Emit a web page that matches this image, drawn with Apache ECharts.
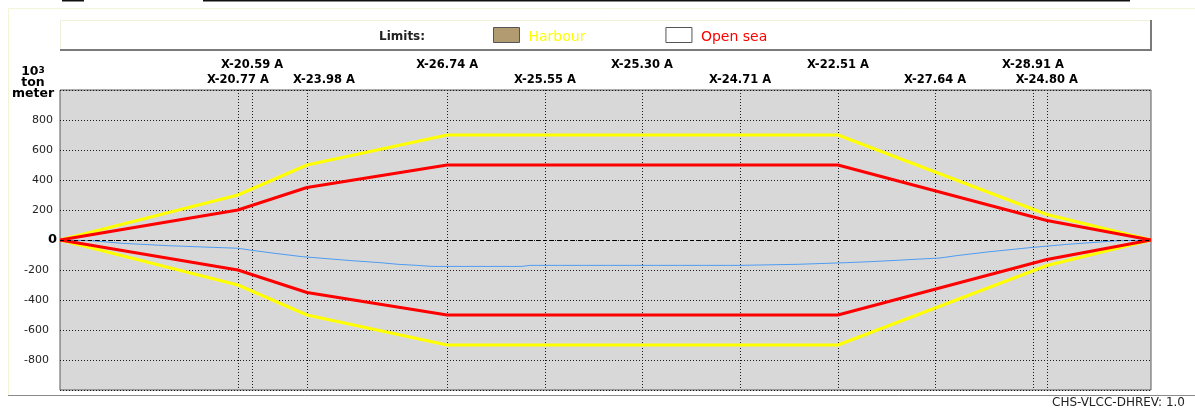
<!DOCTYPE html>
<html>
<head>
<meta charset="utf-8">
<title>Bending moment limits</title>
<script src="https://cdn.jsdelivr.net/npm/echarts@6/dist/echarts.min.js"></script>
<style>
  html, body { margin: 0; padding: 0; background: #ffffff; }
  #chart { width: 1195px; height: 408px; }
</style>
</head>
<body>
<div id="chart"></div>
<script>
// Positions along the hull (m from aft end) and names of the check sections
const sectionPos = [53.8, 58.1, 74.7, 117.1, 146.7, 176.0, 205.7, 235.3, 264.7, 294.3, 298.5];
const sectionNames = ['X-20.77 A', 'X-20.59 A', 'X-23.98 A', 'X-26.74 A', 'X-25.55 A', 'X-25.30 A',
                      'X-24.71 A', 'X-22.51 A', 'X-27.64 A', 'X-28.91 A', 'X-24.80 A'];

// Limit curves (10^3 ton meter)
const limitPos = [0, 53.8, 74.7, 117.1, 235.3, 298.5, 330];
const harbourLimit = [0, 300, 500, 700, 700, 170, 0];
const openSeaLimit = [0, 200, 350, 500, 500, 130, 0];

// Calculated still-water bending moment
const momentPos = [0, 9.7, 18.8, 32.7, 53.8, 58.1, 65.0, 73.2, 88.3, 96.8, 102.2, 108.0, 112.5,
                   139.7, 142.2, 205.7, 223.2, 238.0, 245.6, 252.6, 260.1, 266.2, 271.3, 281.3,
                   293.4, 304.6, 319.7, 330];
const momentVal = [0, -5, -22, -38, -55, -69, -89, -111, -138, -151, -162, -169, -176,
                   -176, -169, -169, -162, -151, -144, -136, -127, -120, -104, -78,
                   -51, -29, -5, 0];

// Y axis
const yMin = -1000, yMax = 1000, yStep = 200;

const FONT = 'DejaVu Sans';

function pairs(xs, ys, sign) {
  return xs.map((x, i) => [x, sign * ys[i]]);
}

const lowerRow = sectionPos.filter((_, i) => i % 2 === 0);
const upperRow = sectionPos.filter((_, i) => i % 2 === 1);
function sectionLabel(v) {
  const i = sectionPos.indexOf(v);
  if (i < 0) return '';
  return i === 2 ? '{shift|' + sectionNames[i] + '}' : '{b|' + sectionNames[i] + '}';
}
const sectionRich = {
  b: { fontFamily: FONT, fontSize: 11.5, fontWeight: 'bold', color: '#000' },
  shift: { fontFamily: FONT, fontSize: 11.5, fontWeight: 'bold', color: '#000', padding: [0, 0, 0, 34] }
};

const chart = echarts.init(document.getElementById('chart'), null, { renderer: 'canvas' });

chart.setOption({
  backgroundColor: '#ffffff',
  animation: false,
  title: {
    text: 'CHS-VLCC-DHREV: 1.0',
    right: 10,
    top: 397,
    padding: 0,
    textStyle: { fontFamily: FONT, fontSize: 12, fontWeight: 'normal', color: '#222' }
  },
  graphic: [
    // page strip above the panel
    { type: 'line', shape: { x1: 62, y1: 0.5, x2: 84, y2: 0.5 }, style: { stroke: '#111', lineWidth: 2 } },
    { type: 'line', shape: { x1: 203, y1: 0.5, x2: 1130, y2: 0.5 }, style: { stroke: '#111', lineWidth: 2 } },
    // outer panel
    { type: 'polyline', shape: { points: [[8.5, 395], [8.5, 8.5], [1195, 8.5]] },
      style: { stroke: '#f4f4d8', fill: null, lineWidth: 1 } },
    { type: 'line', shape: { x1: 8, y1: 395.5, x2: 1195, y2: 395.5 }, style: { stroke: '#8a8a8a', lineWidth: 1 } },
    // legend box
    { type: 'rect', shape: { x: 60.5, y: 20.5, width: 1090, height: 29 },
      style: { fill: '#ffffff', stroke: '#f0f0d8', lineWidth: 1 }, z: -1 },
    { type: 'polyline', shape: { points: [[60, 50], [1151, 50], [1151, 20]] },
      style: { stroke: '#7a7a7a', fill: null, lineWidth: 2 }, z: 0 },
    { type: 'text', left: 379, top: 31,
      style: { text: 'Limits:', fontFamily: FONT, fontSize: 12, fontWeight: 'bold', fill: '#222' } }
  ],
  legend: {
    left: 493,
    top: 27,
    padding: 0,
    itemWidth: 26,
    itemHeight: 15,
    itemGap: 80,
    selectedMode: false,
    icon: 'rect',
    formatter: '{t|{name}}',
    textStyle: {
      fontFamily: FONT, fontSize: 14,
      rich: { t: { fontFamily: FONT, fontSize: 14, padding: [5, 0, 0, 4] } }
    },
    data: [
      { name: 'Harbour', icon: 'rect',
        itemStyle: { color: '#b29b70', borderColor: '#555', borderWidth: 1 },
        textStyle: { color: '#ffff00' } },
      { name: 'Open sea', icon: 'rect',
        itemStyle: { color: '#ffffff', borderColor: '#555', borderWidth: 1 },
        textStyle: { color: '#ff0000' } }
    ]
  },
  grid: {
    left: 60, right: 44, top: 90, bottom: 18,
    show: true,
    backgroundColor: '#d8d8d8',
    borderColor: '#5a5a5a',
    borderWidth: 1
  },
  xAxis: [
    {
      type: 'value', position: 'top', min: 0, max: 330,
      axisLine: { show: false },
      axisTick: { show: false, customValues: sectionPos },
      splitLine: { show: true, lineStyle: { color: '#1a1a1a', width: 1, type: [1, 2] } },
      axisLabel: { customValues: lowerRow, margin: 4, formatter: sectionLabel, rich: sectionRich }
    },
    {
      type: 'value', position: 'top', min: 0, max: 330,
      axisLine: { show: false },
      axisTick: { show: false },
      splitLine: { show: false },
      axisLabel: { customValues: upperRow, margin: 19, formatter: sectionLabel, rich: sectionRich }
    }
  ],
  yAxis: {
    type: 'value', min: yMin, max: yMax, interval: yStep,
    name: '{a|10}{s|3}\n{a|ton}\n{a|meter}',
    nameLocation: 'end',
    nameGap: -9,
    nameTextStyle: {
      align: 'center', verticalAlign: 'bottom', padding: [0, 54, 0, 0],
      rich: {
        a: { fontFamily: FONT, fontSize: 12.5, fontWeight: 'bold', color: '#000', lineHeight: 11 },
        s: { fontFamily: FONT, fontSize: 9, fontWeight: 'bold', color: '#000', verticalAlign: 'top', lineHeight: 11 }
      }
    },
    axisLine: { show: false },
    axisTick: { show: false },
    splitLine: { show: true, lineStyle: { color: '#1a1a1a', width: 1, type: [1, 2] } },
    axisLabel: {
      margin: 3,
      formatter: v => {
        if (v === yMin || v === yMax) return '';
        if (v === 0) return '{z|0}';
        return v < 0 ? '{n|' + v + '}' : '{p|' + v + '}';
      },
      rich: {
        z: { fontFamily: FONT, fontSize: 13, fontWeight: 'bold', color: '#000' },
        n: { fontFamily: FONT, fontSize: 11, color: '#222', padding: [0, 8, 0, 0] },
        p: { fontFamily: FONT, fontSize: 11, color: '#222', padding: [0, 4, 0, 0] }
      }
    }
  },
  series: [
    {
      name: 'Still water', type: 'line', data: pairs(momentPos, momentVal, 1),
      symbol: 'none', lineStyle: { color: '#4d9cf2', width: 1 }, z: 2,
      markLine: {
        silent: true, symbol: 'none', label: { show: false },
        lineStyle: { color: '#000', width: 1, type: [4, 3] },
        data: [{ yAxis: 0 }]
      }
    },
    { name: 'Harbour', type: 'line', data: pairs(limitPos, harbourLimit, 1),
      symbol: 'none', lineStyle: { color: '#ffff00', width: 3 }, itemStyle: { color: '#b29b70' }, z: 3 },
    { name: 'Harbour', type: 'line', data: pairs(limitPos, harbourLimit, -1),
      symbol: 'none', lineStyle: { color: '#ffff00', width: 3 }, itemStyle: { color: '#b29b70' }, z: 3 },
    { name: 'Open sea', type: 'line', data: pairs(limitPos, openSeaLimit, 1),
      symbol: 'none', lineStyle: { color: '#ff0000', width: 3 }, itemStyle: { color: '#ffffff' }, z: 4 },
    { name: 'Open sea', type: 'line', data: pairs(limitPos, openSeaLimit, -1),
      symbol: 'none', lineStyle: { color: '#ff0000', width: 3 }, itemStyle: { color: '#ffffff' }, z: 4 }
  ]
});
</script>
</body>
</html>
